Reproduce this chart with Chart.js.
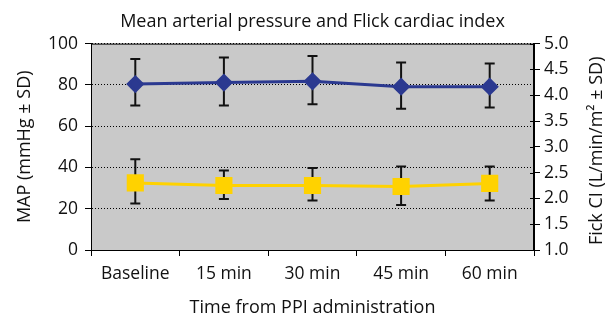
<!DOCTYPE html>
<html>
<head>
<meta charset="utf-8">
<script src="https://cdn.jsdelivr.net/npm/chart.js@4/dist/chart.umd.min.js"></script>
<style>
  html, body { margin: 0; padding: 0; background: #fff; }
  #wrap { width: 609px; height: 316px; }
</style>
</head>
<body>
<div id="wrap"><canvas id="chart" width="609" height="316"></canvas></div>
<script>
// time points
const labels = ["Baseline", "15 min", "30 min", "45 min", "60 min"]

// MAP, mmHg (left axis) – mean and the ends of the SD bars
const mapMean = [80.4, 81.1, 81.7, 79.1, 79.1]
const mapHigh = [92.5, 93.3, 94.0, 90.9, 90.4]
const mapLow  = [70.0, 70.0, 70.6, 68.4, 69.0]

// Fick CI, L/min/m² (right axis)
const ciMean = [2.30, 2.25, 2.25, 2.23, 2.29]
const ciHigh = [2.76, 2.54, 2.59, 2.62, 2.62]
const ciLow  = [1.90, 1.99, 1.96, 1.87, 1.96]

const FONT = "'Open Sans', 'DejaVu Sans', sans-serif"
const rightTitle = "Fick CI (L/min/m² ± SD)"

// gray plot background + frame, SD whiskers, right axis inner ticks and title
const decor = {
  id: "decor",
  beforeDraw(chart) {
    const { ctx, chartArea: a } = chart
    ctx.save()
    ctx.fillStyle = "#c9c9c9"
    ctx.fillRect(a.left, a.top, a.right - a.left, a.bottom - a.top)
    ctx.restore()
  },
  beforeDatasetsDraw(chart) {
    const { ctx } = chart
    const x = chart.scales.x
    const bars = [
      { scale: chart.scales.y,  hi: mapHigh, lo: mapLow },
      { scale: chart.scales.y1, hi: ciHigh,  lo: ciLow },
    ]
    ctx.save()
    ctx.strokeStyle = "#111"
    ctx.lineWidth = 2
    for (const b of bars) {
      b.hi.forEach((hi, i) => {
        const px = x.getPixelForValue(i)
        const top = b.scale.getPixelForValue(hi)
        const bot = b.scale.getPixelForValue(b.lo[i])
        ctx.beginPath()
        ctx.moveTo(px, top); ctx.lineTo(px, bot)
        ctx.moveTo(px - 5, top); ctx.lineTo(px + 5, top)
        ctx.moveTo(px - 5, bot); ctx.lineTo(px + 5, bot)
        ctx.stroke()
      })
    }
    ctx.restore()
  },
  afterDraw(chart) {
    const { ctx, chartArea: a } = chart
    const y1 = chart.scales.y1
    ctx.save()
    ctx.strokeStyle = "#000"
    ctx.lineWidth = 1
    ctx.strokeRect(a.left + 0.5, a.top + 0.5, a.right - a.left - 1, a.bottom - a.top)
    // right axis ticks cross into the plot a little
    ctx.beginPath()
    y1.ticks.forEach((t, i) => {
      const py = Math.round(y1.getPixelForTick(i)) + 0.5
      ctx.moveTo(a.right - 4, py); ctx.lineTo(a.right, py)
    })
    ctx.stroke()
    ctx.fillStyle = "#111"
    ctx.font = "18px " + FONT
    ctx.textAlign = "center"
    ctx.textBaseline = "middle"
    ctx.translate(597, (a.top + a.bottom) / 2 + 4)
    ctx.rotate(-Math.PI / 2)
    ctx.fillText(rightTitle, 0, 0)
    ctx.restore()
  },
}

new Chart(document.getElementById("chart"), {
  type: "line",
  data: {
    labels,
    datasets: [
      {
        label: "MAP",
        data: mapMean,
        yAxisID: "y",
        borderColor: "#2b3990",
        backgroundColor: "#2b3990",
        borderWidth: 3,
        pointStyle: "rectRot",
        pointRadius: 7,
        pointHoverRadius: 7,
      },
      {
        label: "Fick CI",
        data: ciMean,
        yAxisID: "y1",
        borderColor: "#ffd200",
        backgroundColor: "#ffd200",
        borderWidth: 3,
        pointStyle: "rect",
        pointRadius: 10,
        pointHoverRadius: 10,
      },
    ],
  },
  options: {
    responsive: false,
    devicePixelRatio: 1,
    animation: false,
    layout: { padding: 0 },
    plugins: {
      legend: { display: false },
      tooltip: { enabled: false },
      title: {
        display: true,
        fullSize: false,
        text: "Mean arterial pressure and Flick cardiac index",
        color: "#111",
        font: { family: FONT, size: 18, weight: "normal" },
        padding: { top: 11, bottom: 11 },
      },
    },
    scales: {
      x: {
        offset: true,
        afterFit: (s) => { s.height = 66 },
        grid: { offset: true, drawOnChartArea: false, color: "#000", tickLength: 6 },
        border: { color: "#000" },
        ticks: { color: "#111", font: { family: FONT, size: 17.5 }, padding: 8 },
        title: {
          display: true,
          text: "Time from PPI administration",
          color: "#111",
          font: { family: FONT, size: 18 },
          padding: { top: 0, bottom: -3 },
        },
      },
      y: {
        position: "left",
        min: 0,
        max: 100,
        afterFit: (s) => { s.width = 91 },
        grid: { color: "#000", lineWidth: 1, tickLength: 6, tickBorderDash: [] },
        border: { color: "#000", dash: [1, 2] },
        ticks: { stepSize: 20, color: "#111", font: { family: FONT, size: 17.5 }, padding: 7 },
        title: {
          display: true,
          text: "MAP (mmHg ± SD)",
          color: "#111",
          font: { family: FONT, size: 18 },
          padding: { top: 14 },
        },
      },
      y1: {
        position: "right",
        min: 1,
        max: 5,
        afterFit: (s) => { s.width = 75 },
        grid: { drawOnChartArea: false, color: "#000", tickLength: 6 },
        border: { color: "#000" },
        ticks: {
          stepSize: 0.5,
          color: "#111",
          font: { family: FONT, size: 17.5 },
          padding: 4,
          callback: (v) => v.toFixed(1),
        },
      },
    },
  },
  plugins: [decor],
})
</script>
</body>
</html>
